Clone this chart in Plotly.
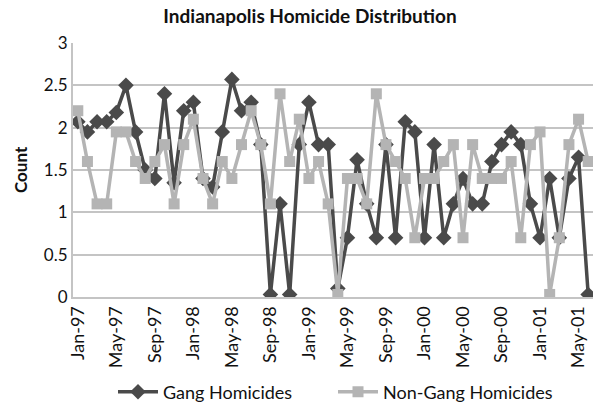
import plotly.graph_objects as go

months = [
    "Jan-97", "Feb-97", "Mar-97", "Apr-97", "May-97", "Jun-97", "Jul-97", "Aug-97", "Sep-97", "Oct-97", "Nov-97", "Dec-97",
    "Jan-98", "Feb-98", "Mar-98", "Apr-98", "May-98", "Jun-98", "Jul-98", "Aug-98", "Sep-98", "Oct-98", "Nov-98", "Dec-98",
    "Jan-99", "Feb-99", "Mar-99", "Apr-99", "May-99", "Jun-99", "Jul-99", "Aug-99", "Sep-99", "Oct-99", "Nov-99", "Dec-99",
    "Jan-00", "Feb-00", "Mar-00", "Apr-00", "May-00", "Jun-00", "Jul-00", "Aug-00", "Sep-00", "Oct-00", "Nov-00", "Dec-00",
    "Jan-01", "Feb-01", "Mar-01", "Apr-01", "May-01", "Jun-01",
]

tick_labels = ["Jan-97", "May-97", "Sep-97", "Jan-98", "May-98", "Sep-98", "Jan-99",
               "May-99", "Sep-99", "Jan-00", "May-00", "Sep-00", "Jan-01", "May-01"]

gang = [
    2.07, 1.95, 2.07, 2.07, 2.18, 2.5, 1.95, 1.5, 1.4, 2.4, 1.35, 2.2,
    2.3, 1.4, 1.3, 1.95, 2.57, 2.2, 2.3, 1.8, 0.03, 1.1, 0.03, 1.8,
    2.3, 1.8, 1.8, 0.1, 0.7, 1.62, 1.1, 0.7, 1.8, 0.7, 2.07, 1.95,
    0.7, 1.8, 0.7, 1.1, 1.4, 1.1, 1.1, 1.6, 1.8, 1.95, 1.8, 1.1,
    0.7, 1.4, 0.7, 1.4, 1.65, 0.03,
]

non_gang = [
    2.2, 1.6, 1.1, 1.1, 1.95, 1.95, 1.6, 1.4, 1.6, 1.8, 1.1, 1.8,
    2.1, 1.4, 1.1, 1.6, 1.4, 1.8, 2.2, 1.8, 1.1, 2.4, 1.6, 2.1,
    1.4, 1.6, 1.1, 0.03, 1.4, 1.4, 1.1, 2.4, 1.8, 1.6, 1.4, 0.7,
    1.4, 1.4, 1.6, 1.8, 0.7, 1.8, 1.4, 1.4, 1.4, 1.6, 0.7, 1.8,
    1.95, 0.03, 0.7, 1.8, 2.1, 1.6,
]

FONT = "Lato"
GANG_COLOR = "#4a4a4a"
NG_COLOR = "#b4b4b4"
GRID = "#c4c4c4"
TEXT = "#111111"

fig = go.Figure()
fig.add_trace(go.Scatter(
    x=months, y=gang, mode="lines+markers", name="Gang Homicides",
    line=dict(color=GANG_COLOR, width=3.5),
    marker=dict(symbol="diamond", size=12, color=GANG_COLOR),
))
fig.add_trace(go.Scatter(
    x=months, y=non_gang, mode="lines+markers", name="Non-Gang Homicides",
    line=dict(color=NG_COLOR, width=3.5),
    marker=dict(symbol="square", size=11, color=NG_COLOR),
))

fig.update_layout(
    width=601, height=404,
    margin=dict(l=73, r=8, t=43, b=107, autoexpand=False),
    paper_bgcolor="white", plot_bgcolor="white",
    font=dict(family=FONT, size=17, color=TEXT),
    title=dict(text="<b>Indianapolis Homicide Distribution</b>",
               x=310 / 601, xanchor="center", xref="container",
               y=1 - 16 / 404, yanchor="middle", yref="container",
               font=dict(family=FONT, size=19, color=TEXT)),
    showlegend=True,
    legend=dict(orientation="h", x=0.5, xanchor="center", y=-0.374, yanchor="middle",
                font=dict(family=FONT, size=18, color=TEXT),
                traceorder="normal", itemwidth=40,
                entrywidth=165, entrywidthmode="pixels"),
    xaxis=dict(type="category", categoryorder="array", categoryarray=months,
               tickmode="array", tickvals=tick_labels, ticktext=tick_labels,
               tickangle=-90, tickfont=dict(size=18), automargin=False,
               showgrid=False, showline=True, linecolor=GRID, linewidth=2,
               ticks="", range=[-0.5, len(months) - 0.5]),
    yaxis=dict(range=[0, 3], dtick=0.5, tick0=0, showgrid=True, gridcolor=GRID, gridwidth=1.5,
               showline=True, linecolor=GRID, linewidth=2, zeroline=False, automargin=False,
               ticks="", tickfont=dict(size=17)),
    annotations=[dict(text="<b>Count</b>", textangle=-90, x=(20 - 73) / 520, xref="paper",
                      y=0.5, yref="paper", xanchor="center", yanchor="middle", showarrow=False,
                      font=dict(family=FONT, size=17, color=TEXT))],
)

fig.write_html("out.html")
